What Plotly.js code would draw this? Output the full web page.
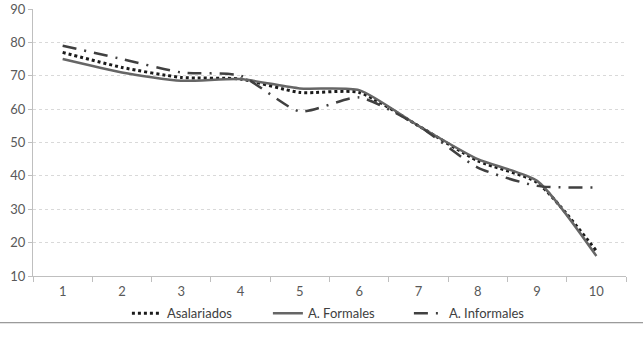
<!DOCTYPE html>
<html><head><meta charset="utf-8">
<script src="https://cdn.plot.ly/plotly-3.0.1.min.js"></script>
<style>html,body{margin:0;padding:0;background:#fff}#chart{width:643px;height:339px}</style>
</head><body><div id="chart"></div>
<script>
const categories = ['1','2','3','4','5','6','7','8','9','10'];
const asalariados = [77, 72.5, 69.5, 69, 65, 65, 55, 44.5, 38, 17.5];
const formales = [75, 71, 68.5, 69, 66.2, 65.7, 55, 45, 38.5, 16];
const informales = [79, 75, 71, 70, 59.3, 63.5, 55, 42.5, 37, 36.5];
const yTicks = [10,20,30,40,50,60,70,80,90];

const traces = [
  {x: categories, y: asalariados, name: 'Asalariados', mode: 'lines',
   line: {color: '#1a1a1a', width: 3, dash: 'dot', shape: 'spline', smoothing: 0.6}},
  {x: categories, y: formales, name: 'A. Formales', mode: 'lines',
   line: {color: '#666666', width: 2.5, shape: 'spline', smoothing: 0.6}},
  {x: categories, y: informales, name: 'A. Informales', mode: 'lines',
   line: {color: '#404040', width: 2.5, dash: '14px,8px,2px,8px', shape: 'spline', smoothing: 0.6}}
];

const font = {family: 'Lato, "Open Sans", sans-serif', size: 13, color: '#595959'};
const layout = {
  width: 643, height: 339,
  margin: {l: 33, r: 17, t: 9, b: 63},
  paper_bgcolor: '#fff', plot_bgcolor: '#fff',
  font: font,
  showlegend: true,
  legend: {orientation: 'h', x: 0.515, xanchor: 'center', y: -0.14, yanchor: 'middle',
           bgcolor: 'rgba(0,0,0,0)', entrywidth: 96, entrywidthmode: 'pixels',
           font: {family: font.family, size: 13, color: '#404040'}, traceorder: 'normal'},
  xaxis: {type: 'category', range: [-0.5, 9.5], tickson: 'boundaries', ticks: 'outside', ticklen: 5, tickcolor: '#bfbfbf',
          showline: true, linecolor: '#bfbfbf', linewidth: 1, showgrid: false, zeroline: false,
          ticklabelstandoff: 3, tickfont: font, fixedrange: true},
  yaxis: {range: [10, 90], tickvals: yTicks, ticks: 'outside', ticklen: 4, tickcolor: '#bfbfbf',
          showline: true, linecolor: '#bfbfbf', linewidth: 1, showgrid: true, gridcolor: '#d9d9d9',
          griddash: 'dot', zeroline: false, tickfont: font, fixedrange: true},
  shapes: [{type: 'line', xref: 'paper', yref: 'paper', x0: -0.056, x1: 1.03, y0: -0.175, y1: -0.175,
            line: {color: '#7f7f7f', width: 1}}]
};
Plotly.newPlot('chart', traces, layout, {displayModeBar: false, staticPlot: true});
</script></body></html>
